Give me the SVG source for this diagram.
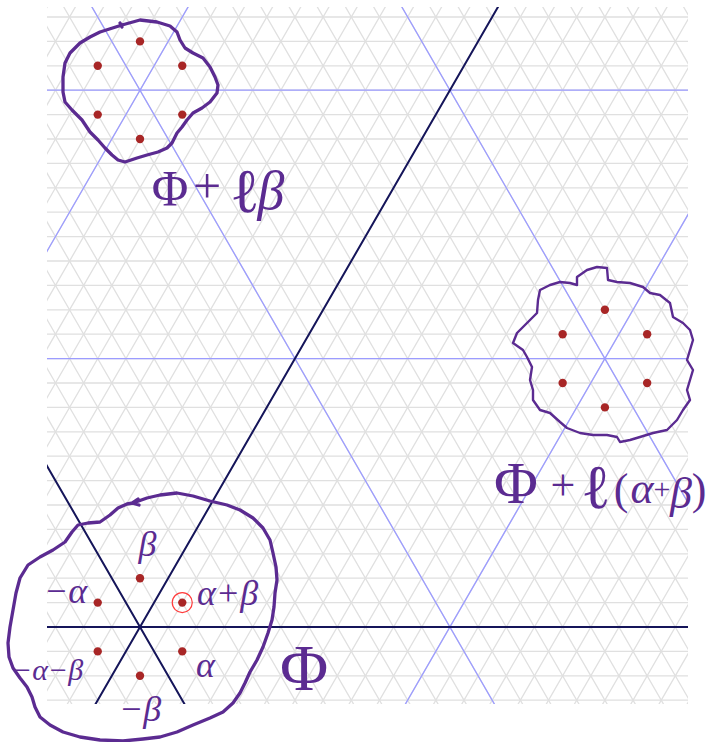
<svg xmlns="http://www.w3.org/2000/svg" width="707" height="742" viewBox="0 0 707 742">
<style>
.grid{fill:none;stroke:#e0e0e0;stroke-width:1.3}
.blue{fill:none;stroke:#9c9cff;stroke-width:1.3}
.navy{fill:none;stroke:#15155a;stroke-width:2}
.dot{fill:#a82626}
.blob{fill:none;stroke:#5b2b91;stroke-linejoin:round;stroke-linecap:round}
.hw{fill:#5b2b91;font-family:'Liberation Serif','DejaVu Serif',serif;text-anchor:middle}
.gr{font-style:italic}
</style>
<defs>
<clipPath id="clip"><rect x="47" y="7" width="641" height="697"/></clipPath>
</defs>
<rect width="707" height="742" fill="#fff"/>
<g id="lattice" clip-path="url(#clip)">
<path class="grid" d="M47,700.2h641m-641,-24.4h641m-641,-24.4h641m-641,-24.4h641m-641,-24.4h641m-641,-24.4h641m-641,-24.4h641m-641,-24.4h641m-641,-24.4h641m-641,-24.4h641m-641,-24.4h641m-641,-24.4h641m-641,-24.4h641m-641,-24.4h641m-641,-24.4h641m-641,-24.4h641m-641,-24.4h641m-641,-24.4h641m-641,-24.4h641m-641,-24.4h641m-641,-24.4h641m-641,-24.4h641m-641,-24.4h641m-641,-24.4h641m-641,-24.4h641m-641,-24.4h641m-641,-24.4h641m-641,-24.4h641m-641,-24.4h641"/>
<path class="grid" d="M-392.665,720l415.692,-720m-387.517,720l415.692,-720m-387.517,720l415.692,-720m-387.517,720l415.692,-720m-387.517,720l415.692,-720m-387.517,720l415.692,-720m-387.517,720l415.692,-720m-387.517,720l415.692,-720m-387.517,720l415.692,-720m-387.517,720l415.692,-720m-387.517,720l415.692,-720m-387.517,720l415.692,-720m-387.517,720l415.692,-720m-387.517,720l415.692,-720m-387.517,720l415.692,-720m-387.517,720l415.692,-720m-387.517,720l415.692,-720m-387.517,720l415.692,-720m-387.517,720l415.692,-720m-387.517,720l415.692,-720m-387.517,720l415.692,-720m-387.517,720l415.692,-720m-387.517,720l415.692,-720m-387.517,720l415.692,-720m-387.517,720l415.692,-720m-387.517,720l415.692,-720m-387.517,720l415.692,-720m-387.517,720l415.692,-720m-387.517,720l415.692,-720m-387.517,720l415.692,-720m-387.517,720l415.692,-720m-387.517,720l415.692,-720m-387.517,720l415.692,-720m-387.517,720l415.692,-720m-387.517,720l415.692,-720m-387.517,720l415.692,-720m-387.517,720l415.692,-720m-387.517,720l415.692,-720m-387.517,720l415.692,-720m-387.517,720l415.692,-720"/>
<path class="grid" d="M24.64,720l-415.692,-720m443.867,720l-415.692,-720m443.867,720l-415.692,-720m443.867,720l-415.692,-720m443.867,720l-415.692,-720m443.867,720l-415.692,-720m443.867,720l-415.692,-720m443.867,720l-415.692,-720m443.867,720l-415.692,-720m443.867,720l-415.692,-720m443.867,720l-415.692,-720m443.867,720l-415.692,-720m443.867,720l-415.692,-720m443.867,720l-415.692,-720m443.867,720l-415.692,-720m443.867,720l-415.692,-720m443.867,720l-415.692,-720m443.867,720l-415.692,-720m443.867,720l-415.692,-720m443.867,720l-415.692,-720m443.867,720l-415.692,-720m443.867,720l-415.692,-720m443.867,720l-415.692,-720m443.867,720l-415.692,-720m443.867,720l-415.692,-720m443.867,720l-415.692,-720m443.867,720l-415.692,-720m443.867,720l-415.692,-720m443.867,720l-415.692,-720m443.867,720l-415.692,-720m443.867,720l-415.692,-720m443.867,720l-415.692,-720m443.867,720l-415.692,-720m443.867,720l-415.692,-720m443.867,720l-415.692,-720m443.867,720l-415.692,-720m443.867,720l-415.692,-720m443.867,720l-415.692,-720m443.867,720l-415.692,-720m443.867,720l-415.692,-720"/>
<path class="blue" d="M47,358.6H688M47,90.2H688M-223.6,720L192.1,0M396.2,720L811.9,0M503.6,720L87.9,0M813.5,720L397.85,0"/>
<path class="navy" d="M47,627H688M86.31,720L502,0M193.69,720L-222,0"/>
</g>
<g id="shift-beta">
<circle class="dot" cx="140" cy="41.4" r="4.2"/>
<circle class="dot" cx="182.26" cy="65.8" r="4.2"/>
<circle class="dot" cx="97.74" cy="65.8" r="4.2"/>
<circle class="dot" cx="182.26" cy="114.6" r="4.2"/>
<circle class="dot" cx="97.74" cy="114.6" r="4.2"/>
<circle class="dot" cx="140" cy="139" r="4.2"/>
<path class="blob" stroke-width="3.3" d="M100,32L122,25L140,20L157,22L170,26L177,32L180,40L185,48L193,53L203,58L210,67L215,77L218,85L217,93L210,102L202,108L193,113L187,120L182,127L177,133L172,143L167,148L158,152L147,155L137,158L125,162L118,160L112,155L105,148L98,140L90,132L82,120L72,110L65,102L63,92L63,77L65,63L70,53L80,43L90,37L100,32L122,25M120,23l2,4"/>
<text class="hw" font-size="50"><tspan x="170" y="205">Φ</tspan><tspan x="207" y="203">+</tspan><tspan x="245" y="212" font-size="62">ℓ</tspan><tspan class="gr" x="271" y="209" font-size="54">β</tspan></text>
</g>
<g id="shift-alpha-beta">
<circle class="dot" cx="604.9" cy="309.8" r="4.2"/>
<circle class="dot" cx="647.16" cy="334.2" r="4.2"/>
<circle class="dot" cx="562.64" cy="334.2" r="4.2"/>
<circle class="dot" cx="647.16" cy="383" r="4.2"/>
<circle class="dot" cx="562.64" cy="383" r="4.2"/>
<circle class="dot" cx="604.9" cy="407.4" r="4.2"/>
<path class="blob" stroke-width="2.4" d="M577,285L577,277L587,270L597,267L607,268L608,280L617,282L630,283L643,287L650,293L660,295L670,303L673,317L683,323L690,330L693,340L690,350L687,360L693,370L690,380L687,390L690,400L683,410L677,420L667,430L653,433L640,437L630,440L620,442L617,437L607,435L593,435L580,433L567,428L560,422L550,413L540,410L533,400L533,390L530,380L532,367L527,357L523,350L513,343L517,333L527,323L537,313L538,300L540,290L550,285L560,282L570,283L577,285"/>
<text class="hw" font-size="44"><tspan x="516" y="503" font-size="60">Φ</tspan><tspan x="563" y="500" font-size="44">+</tspan><tspan x="596" y="508" font-size="62">ℓ</tspan><tspan x="621" y="504">(</tspan><tspan class="gr" x="642" y="503">α</tspan><tspan x="662" y="499" font-size="30">+</tspan><tspan class="gr" x="681" y="508">β</tspan><tspan x="699" y="504">)</tspan></text>
</g>
<g id="root-system">
<circle class="dot" cx="140" cy="578.2" r="4.2"/>
<circle class="dot" cx="182.26" cy="602.6" r="4.2"/>
<circle class="dot" cx="97.74" cy="602.6" r="4.2"/>
<circle class="dot" cx="182.26" cy="651.4" r="4.2"/>
<circle class="dot" cx="97.74" cy="651.4" r="4.2"/>
<circle class="dot" cx="140" cy="675.8" r="4.2"/>
<circle cx="182.26" cy="602.6" r="10" fill="none" stroke="#ff3b3b" stroke-width="1.2"/>
<path class="blob" stroke-width="3.3" d="M133,503L147,498L160,495L177,493L193,496L210,501L227,505L240,510L253,518L263,528L270,540L273,553L276,567L277,580L275,593L274,607L272,620L268,633L263,647L257,660L250,672L245,683L240,693L233,703L223,712L210,718L193,725L177,732L160,737L143,739L123,741L100,740L80,737L63,732L50,725L40,717L35,707L32,697L27,687L20,678L13,668L9,657L8,643L10,627L13,610L16,593L20,578L28,565L40,557L53,550L65,542L72,532L78,525L88,523L100,522L110,515L118,508L127,504L133,503M138,499L132,503L139,505"/>
<text class="hw gr" font-size="36">
<tspan x="152" y="556">β</tspan>
<tspan x="70" y="603">−α</tspan>
<tspan x="232" y="605">α+β</tspan>
<tspan x="52" y="680" font-size="30">−α−β</tspan>
<tspan x="210" y="677">α</tspan>
<tspan x="140" y="721">−β</tspan>
</text>
</g>
<g id="label-phi">
<text class="hw" font-size="66" x="304" y="690">Φ</text>
</g>
</svg>
